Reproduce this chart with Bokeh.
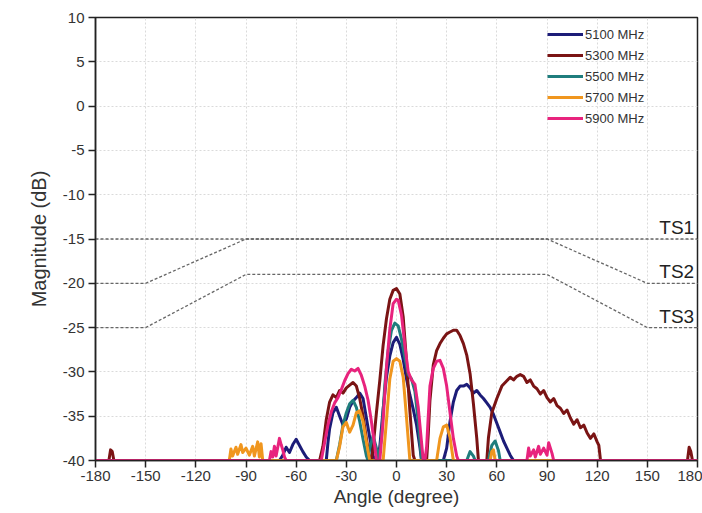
from bokeh.plotting import figure
from bokeh.models import Legend, LegendItem, FixedTicker, Label
from bokeh.embed import file_html
from bokeh.resources import INLINE

# ---------------- data (angle in degree, magnitude in dB) ----------------
s5100 = [(-180,-40),(-70,-40),(-68,-39.4),(-66,-38.5),(-64,-39.1),(-62,-38.2),(-60,-37.6),(-58,-38.3),
         (-56,-39.0),(-54,-39.6),(-52,-40),(-42,-40),(-41,-38.0),(-40,-36.4),(-38,-34.6),(-36,-34.0),
         (-34,-35.0),(-32,-36.0),(-30,-35.3),(-28,-34.0),(-26,-33.3),(-24,-32.9),(-22,-32.4),(-20,-33.0),
         (-18,-35.2),(-16,-37.4),(-14,-39.5),(-12,-40),(-10,-38.5),(-8,-34.2),(-6,-30.6),(-4,-28.2),
         (-2,-26.7),(0,-26.1),(2,-26.9),(4,-28.6),(6,-30.8),(8,-32.6),(10,-34.2),(12,-36.0),(14,-38.5),
         (15,-40),(28,-40),(30,-38.6),(32,-35.6),(34,-33.4),(36,-32.1),(38,-31.6),(40,-31.6),(42,-31.4),
         (44,-31.8),(46,-32.4),(48,-32.1),(50,-32.6),(52,-33.0),(54,-33.5),(56,-34.0),(58,-34.8),
         (60,-35.8),(62,-36.8),(64,-37.8),(66,-38.6),(68,-39.4),(70,-40),(180,-40)]

s5300 = [(-180,-40),(-172,-40),(-171,-38.8),(-170,-39.0),(-169,-40),(-46,-40),(-44,-38.4),(-42,-35.4),
         (-40,-33.4),(-38,-32.6),(-36,-32.9),(-34,-32.1),(-32,-32.4),(-30,-31.8),(-28,-31.5),(-26,-31.2),
         (-24,-31.6),(-22,-33.0),(-20,-35.0),(-18,-37.5),(-16,-40),(-15,-40),(-14,-38.5),(-12,-34.6),
         (-10,-31.0),(-8,-27.0),(-6,-24.0),(-4,-21.8),(-2,-20.8),(0,-20.6),(2,-21.2),(4,-23.8),(6,-28.8),
         (8,-34.4),(10,-39.4),(11,-40),(18,-40),(19,-37.0),(20,-33.2),(22,-29.2),(24,-27.6),(26,-26.8),
         (28,-26.2),(30,-25.7),(32,-25.5),(34,-25.3),(36,-25.3),(38,-25.9),(40,-26.8),(42,-28.1),
         (44,-30.2),(46,-33.6),(48,-37.5),(49,-40),(54,-40),(55,-37.4),(57,-34.6),(60,-33.0),(63,-31.6),
         (66,-31.0),(68,-30.6),(70,-30.9),(72,-30.5),(74,-30.3),(76,-30.5),(78,-31.2),(80,-30.9),
         (82,-31.6),(84,-31.9),(86,-32.5),(88,-32.1),(90,-32.9),(92,-33.4),(94,-33.0),(96,-33.8),
         (98,-34.1),(100,-34.7),(102,-34.3),(104,-35.2),(106,-35.9),(108,-35.4),(110,-36.3),(112,-36.0),
         (114,-36.9),(116,-37.5),(118,-37.0),(120,-37.9),(121,-38.3),(122,-40),(174,-40),(175,-38.5),
         (176,-39.0),(177,-40),(180,-40)]

s5500 = [(-180,-40),(-36,-40),(-34,-38.2),(-32,-36.0),(-30,-34.6),(-28,-33.6),(-26,-33.2),(-24,-34.0),
         (-22,-35.6),(-20,-37.6),(-18,-39.5),(-17,-40),(-16,-38.6),(-14,-37.2),(-12,-38.6),(-11,-40),
         (-9,-37.5),(-7,-31.5),(-5,-27.6),(-3,-25.3),(-1,-24.5),(1,-24.8),(3,-26.3),(5,-28.4),(7,-30.3),
         (9,-30.8),(11,-32.2),(13,-35.6),(15,-40),(42,-40),(44,-39.0),(46,-39.5),(47,-40),(55,-40),
         (57,-38.3),(59,-37.8),(61,-38.9),(62,-40),(180,-40)]

s5700 = [(-180,-40),(-100,-40),(-99,-38.7),(-98,-39.5),(-96,-38.5),(-95,-39.3),(-93,-38.2),(-92,-39.1),
         (-90,-38.6),(-88,-39.4),(-86,-38.4),(-85,-39.5),(-83,-37.9),(-82,-39.6),(-81,-38.1),(-80,-40),
         (-36,-40),(-34,-38.4),(-32,-36.2),(-30,-35.7),(-28,-36.8),(-26,-36.0),(-24,-34.6),(-22,-34.4),
         (-20,-35.6),(-18,-37.9),(-16,-40),(-8,-40),(-6,-35.5),(-4,-30.8),(-2,-28.8),(0,-28.5),(2,-28.8),
         (4,-30.6),(6,-35.2),(8,-40),(24,-40),(26,-37.5),(28,-36.2),(30,-36.0),(32,-37.4),(34,-40),
         (56,-40),(57,-39.0),(58,-38.8),(59,-40),(180,-40)]

s5900 = [(-180,-40),(-76,-40),(-75,-39.0),(-74,-39.6),(-73,-38.4),(-72,-39.5),(-70,-37.5),(-69,-38.2),
         (-68,-38.8),(-67,-39.6),(-66,-40),(-45,-40),(-43,-38.0),(-41,-36.0),(-39,-34.5),(-37,-33.5),
         (-35,-32.9),(-33,-32.0),(-31,-31.0),(-29,-30.2),(-27,-29.7),(-25,-29.9),(-23,-29.6),(-21,-30.4),
         (-19,-31.6),(-17,-33.2),(-15,-35.6),(-13,-38.4),(-12,-40),(-10,-40),(-8,-35.5),(-6,-29.5),
         (-4,-25.2),(-2,-22.3),(0,-21.8),(1,-21.9),(3,-23.6),(5,-27.0),(7,-30.0),(9,-30.9),(11,-31.4),
         (13,-34.0),(15,-38.0),(16,-40),(17,-40),(18,-38.5),(19,-35.0),(20,-31.6),(22,-29.6),(24,-28.8),
         (26,-28.7),(28,-29.6),(30,-31.6),(32,-34.6),(34,-37.5),(36,-39.5),(37,-40),(78,-40),(79,-38.6),
         (80,-39.5),(82,-38.8),(83,-39.6),(85,-38.4),(86,-39.3),(88,-38.6),(90,-39.4),(91,-38.0),
         (93,-39.2),(94,-40),(180,-40)]

series_names = ["5100 MHz", "5300 MHz", "5500 MHz", "5700 MHz", "5900 MHz"]
series_data = [s5100, s5300, s5500, s5700, s5900]
series_colors = ["#1c1c78", "#7a1414", "#1f7d7d", "#f0961e", "#e8237d"]

# threshold masks
ts_angles = [-180, -150, -90, 90, 150, 180]
ts1_db = [-15, -15, -15, -15, -15, -15]
ts2_db = [-20, -20, -15, -15, -20, -20]
ts3_db = [-25, -25, -19, -19, -25, -25]
ts_names = ["TS1", "TS2", "TS3"]
ts_label_db = [-15, -20, -25]

x_ticks = list(range(-180, 181, 30))
y_ticks = list(range(-40, 11, 5))

FONT = "Liberation Sans"

p = figure(width=702, height=513, x_range=(-180, 180), y_range=(-40, 10),
           output_backend="svg", toolbar_location=None,
           min_border_left=95, min_border_right=5, min_border_top=17, min_border_bottom=53)
p.background_fill_color = "white"
p.border_fill_color = "white"
p.outline_line_color = "#222222"
p.outline_line_width = 1.5

p.xaxis.ticker = FixedTicker(ticks=x_ticks)
p.yaxis.ticker = FixedTicker(ticks=y_ticks)
p.xaxis.major_label_overrides = {t: str(t) for t in x_ticks}
p.yaxis.major_label_overrides = {t: str(t) for t in y_ticks}
for ax in (p.xaxis[0], p.yaxis[0]):
    ax.axis_line_color = "#222222"
    ax.axis_line_width = 1.5
    ax.major_tick_line_color = "#222222"
    ax.major_tick_line_width = 1.5
    ax.major_tick_in = 0
    ax.major_tick_out = 7
    ax.minor_tick_line_color = None
    ax.major_label_text_font = FONT
    ax.major_label_text_font_size = "15px"
    ax.major_label_text_color = "#333333"
    ax.axis_label_text_font = FONT
    ax.axis_label_text_font_style = "normal"
    ax.axis_label_text_color = "#333333"
p.xaxis.axis_label = "Angle (degree)"
p.yaxis.axis_label = "Magnitude (dB)"
p.xaxis.axis_label_text_font_size = "19px"
p.yaxis.axis_label_text_font_size = "20px"
p.xaxis.major_label_standoff = 3
p.yaxis.major_label_standoff = 4
p.xaxis.axis_label_standoff = 2
p.yaxis.axis_label_standoff = 10

for g in (p.xgrid[0], p.ygrid[0]):
    g.grid_line_color = "#dadada"
    g.grid_line_dash = "2 2"
    g.grid_line_width = 1

# threshold lines
for db in (ts1_db, ts2_db, ts3_db):
    p.line(ts_angles, db, line_color="#666666", line_width=1.3, line_dash="3 2")
for name, lv in zip(ts_names, ts_label_db):
    p.add_layout(Label(x=178, y=lv, text=name, text_align="right", text_baseline="bottom",
                       y_offset=1, text_font=FONT, text_font_size="19px", text_color="#222222"))

items = []
for name, data, col in zip(series_names, series_data, series_colors):
    xs = [a for a, _ in data]
    ys = [m for _, m in data]
    r = p.line(xs, ys, line_color=col, line_width=3, line_join="round")
    items.append(LegendItem(label=name, renderers=[r]))

legend = Legend(items=items, location=(452, 333), orientation="vertical",
                glyph_width=36, glyph_height=18, spacing=3, label_standoff=2,
                padding=0, margin=0, border_line_alpha=0, background_fill_alpha=0,
                label_text_font=FONT, label_text_font_size="13px", label_text_color="#333333")
p.add_layout(legend)

open("out.html", "w").write(file_html(p, INLINE))
